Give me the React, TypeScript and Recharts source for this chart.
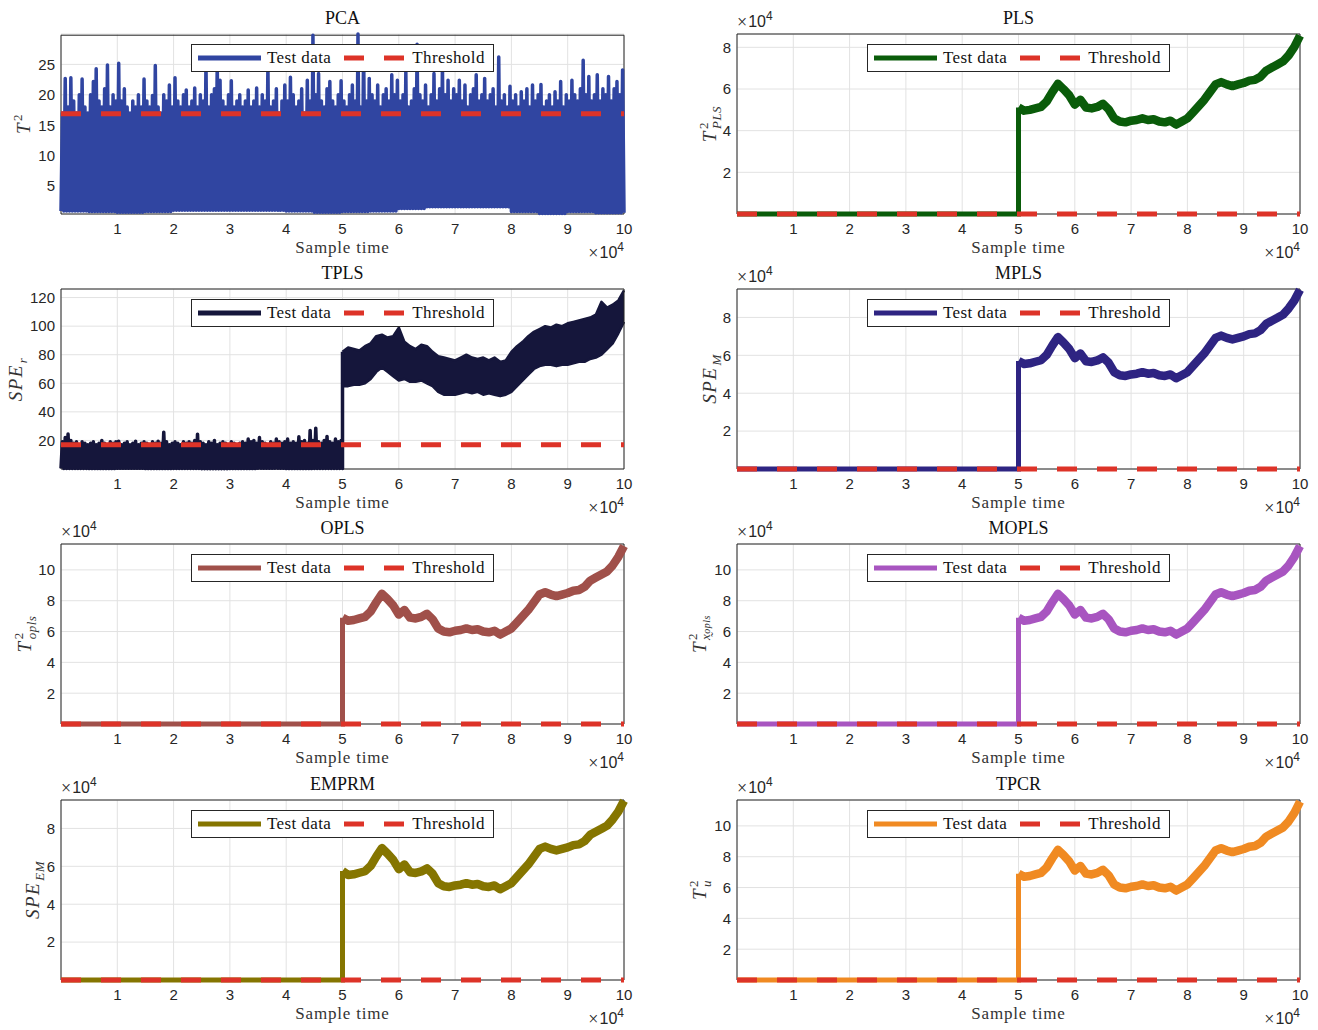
import React from 'react';
import { ComposedChart, Line, Area, XAxis, YAxis, CartesianGrid, ReferenceArea, Legend } from 'recharts';

// ---------------- data ----------------
const sampleTicks = [10000, 20000, 30000, 40000, 50000, 60000, 70000, 80000, 90000, 100000];

// PCA T^2 : peak value of every 500-sample window, and trough level of every 5000-sample block
const pcaPeaks = [
  17, 22.7, 18, 22.8, 19, 17, 20, 22.6, 18, 17,
  20, 22.2, 24.3, 19, 18, 21, 24.9, 18, 20, 19,
  25.2, 19, 21, 18, 17, 19, 18, 20, 18, 22.6,
  19, 18, 19.9, 24.8, 18, 17, 20, 19, 21.6, 18,
  22.8, 19, 18, 20, 20.8, 18, 19, 21.1, 18, 20,
  19, 25.4, 18, 20, 21, 25.2, 22.4, 19, 18, 20,
  22.3, 18, 19, 20, 18, 19, 20.8, 18, 19, 21.1,
  18, 20, 19, 24.9, 18, 19, 21, 17, 19, 21.6,
  19, 22.9, 20, 18, 19, 21, 17, 22.4, 19, 29.8,
  20, 23.5, 19, 18, 21, 22.2, 19, 18, 20, 22.3,
  19, 18, 20, 21.6, 19, 30, 18, 27.9, 19, 22.7,
  20, 19, 21.6, 18, 20, 21, 19, 23.3, 20, 22.4,
  19, 20, 23.8, 18, 19, 21, 28.3, 20, 19, 21.6,
  18, 20, 23.5, 19, 21, 24.9, 20, 22.4, 19, 21,
  20, 22.4, 19, 21.6, 18, 20, 21, 23.3, 19, 20,
  22.7, 19, 20, 21, 18, 26.2, 19, 20, 18, 21.4,
  19, 20, 18, 20.5, 19, 21, 18, 21.6, 19, 20,
  21.7, 18, 19, 20, 18, 20.5, 19, 22.2, 18, 20,
  19, 22.4, 20, 19, 21, 25.7, 20, 23, 19, 20,
  23.3, 19, 21, 20, 23, 19, 21, 22.2, 20, 24.1,
];
const pcaTroughs = [0.9, 0.8, 0.7, 0.8, 1.0, 1.0, 1.0, 1.0, 0.9, 0.7, 0.8, 0.9, 1.3, 1.6, 1.6, 1.6, 0.8, 0.5, 0.8, 0.6];
const pcaThreshold = 16.9;

// TPLS SPE_r
const tplsPrePeaks = [
  19, 22, 24.5, 20, 18, 19, 17, 19, 18, 17,
  18, 19, 17, 18, 20, 18, 17, 19, 18, 19,
  19.5, 17, 18, 19, 17, 18, 19.5, 17, 18, 19,
  18, 17, 19, 18, 19.5, 18, 25.8, 19, 17, 18,
  19, 18, 17, 19, 18, 19, 18, 20, 24.4, 19,
  18, 17, 19, 18, 20, 17, 18, 19, 18, 17,
  19, 18, 17, 18, 19, 18, 21, 19, 20, 18,
  22, 19, 18, 17, 19, 18, 21, 19, 18, 19,
  21, 18, 19, 18, 22.5, 19, 20, 18, 27, 20,
  28.6, 19, 18, 20, 22.8, 19, 18, 21, 19, 20,
];
const tplsPreTroughs = [0.4, 0.3, 0.5, 0.3, 0.4, 0.2, 0.3, 0.5, 0.3, 0.4];
const tplsPostLow = [
  58, 58, 59, 59, 60, 63, 68, 71, 68, 65,
  62, 63, 61, 61, 62, 60, 58, 54, 52, 52,
  52, 53, 54, 53, 54, 52, 53, 52, 51, 52,
  54, 58, 62, 66, 70, 72, 73, 73, 72, 73,
  73, 74, 75, 75, 77, 78, 80, 84, 88, 95, 103,
];
const tplsPostHigh = [
  82, 85, 84, 83, 86, 88, 93, 94, 92, 93,
  99, 89, 86, 84, 87, 86, 82, 79, 78, 77,
  76, 78, 80, 78, 77, 78, 76, 78, 75, 76,
  82, 86, 89, 93, 96, 98, 100, 99, 101, 100,
  102, 103, 104, 105, 106, 108, 117, 113, 115, 118, 125,
];
const tplsThreshold = 17;

// smooth statistics: before the fault (every 10000 samples) and after it (every 1000 samples)
const preFaultTimes = [0, 10000, 20000, 30000, 40000, 50000];
const postFaultTimes = Array.from({ length: 51 }, (_, i) => 50000 + i * 1000);

const plsPre = [14, 12, 15, 13, 16, 14];
const plsPost = [
  51100, 49600, 50000, 50700, 51400, 54000, 58500, 62500, 59900, 57000,
  52500, 54800, 51100, 50700, 51400, 52900, 50300, 45900, 44400, 44000,
  44800, 45100, 45900, 45100, 45500, 44400, 44000, 44800, 42900, 44400,
  45900, 48800, 51800, 54800, 58500, 62200, 63300, 62200, 61400, 62200,
  62900, 64000, 64400, 65900, 68800, 70300, 71800, 73300, 76200, 80200, 85600,
];
const mplsPre = [18, 15, 17, 16, 19, 17];
const mplsPost = [
  57000, 55400, 55800, 56600, 57400, 60200, 65100, 69600, 66700, 63400,
  58500, 61000, 56900, 56500, 57300, 58900, 56100, 51100, 49500, 49100,
  49900, 50300, 51100, 50300, 50700, 49500, 49100, 49900, 47900, 49500,
  51100, 54400, 57700, 61000, 65100, 69200, 70400, 69200, 68400, 69200,
  70000, 71200, 71600, 73300, 76600, 78200, 79800, 81500, 84800, 88900, 94600,
];
const oplsPre = [16, 14, 17, 15, 18, 16];
const oplsPost = [
  69000, 67000, 67500, 68500, 69500, 73000, 79000, 84500, 81000, 77000,
  71000, 74000, 69000, 68500, 69500, 71500, 68000, 62000, 60000, 59500,
  60500, 61000, 62000, 61000, 61500, 60000, 59500, 60500, 58000, 60000,
  62000, 66000, 70000, 74000, 79000, 84000, 85500, 84000, 83000, 84000,
  85000, 86500, 87000, 89000, 93000, 95000, 97000, 99000, 103000, 108500, 115500,
];
const moplsPre = [16, 15, 17, 14, 18, 16];
const moplsPost = [
  69000, 67000, 67500, 68500, 69500, 73000, 79000, 84500, 81000, 77000,
  71000, 74000, 69000, 68500, 69500, 71500, 68000, 62000, 60000, 59500,
  60500, 61000, 62000, 61000, 61500, 60000, 59500, 60500, 58000, 60000,
  62000, 66000, 70000, 74000, 79000, 84000, 85500, 84000, 83000, 84000,
  85000, 86500, 87000, 89000, 93000, 95000, 97000, 99000, 103000, 108500, 115500,
];
const emprmPre = [18, 16, 17, 15, 19, 17];
const emprmPost = [
  57500, 55400, 55800, 56600, 57400, 60200, 65100, 69600, 66700, 63400,
  58500, 61000, 56900, 56500, 57300, 58900, 56100, 51100, 49500, 49100,
  49900, 50300, 51100, 50300, 50700, 49500, 49100, 49900, 47900, 49500,
  51100, 54400, 57700, 61000, 65100, 69200, 70400, 69200, 68400, 69200,
  70000, 71200, 71600, 73300, 76600, 78200, 79800, 81500, 84800, 88900, 94600,
];
const tpcrPre = [16, 14, 16, 15, 17, 15];
const tpcrPost = [
  69000, 67000, 67500, 68500, 69500, 73000, 79000, 84500, 81000, 77000,
  71000, 74000, 69000, 68500, 69500, 71500, 68000, 62000, 60000, 59500,
  60500, 61000, 62000, 61000, 61500, 60000, 59500, 60500, 58000, 60000,
  62000, 66000, 70000, 74000, 79000, 84000, 85500, 84000, 83000, 84000,
  85000, 86500, 87000, 89000, 93000, 95000, 97000, 99000, 103000, 108500, 115800,
];
const smallThreshold = 17;

// ---------------- table builders ----------------
type Row = { x: number; v?: number; band?: [number, number]; pre?: number; post?: number; thr?: number };

function buildPca(): Row[] {
  const rows: Row[] = [];
  pcaPeaks.forEach((p, k) => {
    rows.push({ x: k * 500, v: pcaTroughs[Math.floor(k / 10)] });
    rows.push({ x: k * 500 + 250, v: p });
  });
  rows.push({ x: 100000, v: pcaTroughs[pcaTroughs.length - 1] });
  rows[0].thr = pcaThreshold;
  rows[rows.length - 1].thr = pcaThreshold;
  return rows;
}

function buildTpls(): Row[] {
  const rows: Row[] = [];
  tplsPrePeaks.forEach((p, k) => {
    rows.push({ x: k * 500, v: tplsPreTroughs[Math.floor(k / 10)] });
    rows.push({ x: k * 500 + 250, v: p });
  });
  rows.push({ x: 50000, v: tplsPreTroughs[tplsPreTroughs.length - 1] });
  rows.push({ x: 50000, v: tplsPostHigh[0] });
  postFaultTimes.forEach((x, i) => rows.push({ x, band: [tplsPostLow[i], tplsPostHigh[i]] }));
  rows[0].thr = tplsThreshold;
  rows[rows.length - 1].thr = tplsThreshold;
  return rows;
}

function buildSmooth(pre: number[], post: number[], thr: number): Row[] {
  const rows: Row[] = preFaultTimes.map((x, i) => ({ x, pre: pre[i] }));
  rows.push({ x: 50000, pre: post[0], post: post[0] });
  postFaultTimes.slice(1).forEach((x, i) => rows.push({ x, post: post[i + 1] }));
  rows[0].thr = thr;
  rows[rows.length - 1].thr = thr;
  return rows;
}

// ---------------- styling ----------------
const SERIF = '"Liberation Serif", "Times New Roman", serif';
const SANS = '"Liberation Sans", Arial, sans-serif';
const RED = '#dd3328';
const AXIS = '#262626';
const PW = 563;
const PH = 180;
const ML = 61;
const MT = 34;
const MR = 25;
const MB = 45;
const W = ML + PW + MR;
const H = MT + PH + MB;

const Sci = () => (
  <span style={{ fontFamily: SANS, fontSize: 16, color: AXIS, whiteSpace: 'nowrap', display: 'inline-flex', alignItems: 'flex-start', height: 16 }}>
    <span style={{ fontFamily: SERIF, fontSize: 18, lineHeight: '16px', marginRight: 1 }}>×</span>
    <span style={{ lineHeight: '16px' }}>10</span>
    <span style={{ fontSize: 12, lineHeight: '12px', marginTop: -4 }}>4</span>
  </span>
);

const MathLabel = ({ base, sup, sub }: { base: string; sup?: string; sub?: React.ReactNode }) => (
  <span style={{ display: 'inline-flex', alignItems: 'center', fontFamily: SERIF, fontSize: 19, color: '#333' }}>
    <span style={{ fontStyle: 'italic', letterSpacing: 1.5 }}>{base}</span>
    <span style={{ display: 'inline-flex', flexDirection: 'column', fontSize: 13, lineHeight: '13px', marginLeft: 1 }}>
      <span style={{ visibility: sup ? 'visible' : 'hidden' }}>{sup || '0'}</span>
      <span style={{ fontStyle: 'italic', letterSpacing: 0.5, visibility: sub ? 'visible' : 'hidden' }}>{sub || '0'}</span>
    </span>
  </span>
);

const LegendBox = ({ color }: { color: string }) => (
  <div
    style={{
      width: 303, height: 28, boxSizing: 'border-box', border: `1px solid ${AXIS}`, background: '#fff',
      display: 'flex', alignItems: 'center', fontFamily: SERIF, fontSize: 17, letterSpacing: 0.4, color: '#111', whiteSpace: 'nowrap',
    }}
  >
    <svg width={63} height={8} style={{ marginLeft: 6 }}>
      <line x1={0} y1={4} x2={63} y2={4} stroke={color} strokeWidth={5} />
    </svg>
    <span style={{ marginLeft: 6 }}>Test data</span>
    <svg width={60} height={8} style={{ marginLeft: 13 }}>
      <line x1={0} y1={4} x2={60} y2={4} stroke={RED} strokeWidth={5} strokeDasharray="20 20" />
    </svg>
    <span style={{ marginLeft: 8 }}>Threshold</span>
  </div>
);

type PanelProps = {
  plotLeft: number;
  plotTop: number;
  title: string;
  yLabel: React.ReactNode;
  yLabelDx: number;
  color: string;
  data: Row[];
  yDomain: [number, number];
  yTicks: number[];
  sci: boolean;
  kind: 'zig' | 'tpls' | 'smooth';
};

function Panel({ plotLeft, plotTop, title, yLabel, yLabelDx, color, data, yDomain, yTicks, sci, kind }: PanelProps) {
  const tickStyle = { fontSize: 15, fill: AXIS, fontFamily: SANS };
  const fmtY = (v: number) => (sci ? String(v / 10000) : String(v));
  return (
    <div style={{ position: 'absolute', left: plotLeft - ML, top: plotTop - MT, width: W, height: H }}>
      <ComposedChart width={W} height={H} data={data} margin={{ top: MT, right: MR, bottom: 0, left: 0 }}>
        <CartesianGrid stroke="#e2e2e2" strokeWidth={1} />
        <XAxis
          dataKey="x" type="number" domain={[0, 100000]} ticks={sampleTicks} tickFormatter={(v: number) => String(v / 10000)}
          height={MB} tickLine={false} axisLine={false} tickSize={6} tickMargin={3} tick={tickStyle} interval={0}
        />
        <YAxis
          type="number" domain={yDomain} ticks={yTicks} tickFormatter={fmtY} width={ML}
          tickLine={false} axisLine={false} tickSize={6} tickMargin={0} tick={tickStyle} interval={0}
        />
        <XAxis xAxisId="tb" orientation="bottom" mirror type="number" dataKey="x" domain={[0, 100000]} allowDataOverflow ticks={sampleTicks}
          tick={false} tickSize={5} height={0} axisLine={false} tickLine={{ stroke: AXIS }} />
        <XAxis xAxisId="tt" orientation="top" mirror type="number" dataKey="x" domain={[0, 100000]} allowDataOverflow ticks={sampleTicks}
          tick={false} tickSize={5} height={0} axisLine={false} tickLine={{ stroke: AXIS }} />
        <YAxis yAxisId="tl" orientation="left" mirror type="number" domain={yDomain} allowDataOverflow ticks={yTicks}
          tick={false} tickSize={5} width={0} axisLine={false} tickLine={{ stroke: AXIS }} />
        <YAxis yAxisId="tr" orientation="right" mirror type="number" domain={yDomain} allowDataOverflow ticks={yTicks}
          tick={false} tickSize={5} width={0} axisLine={false} tickLine={{ stroke: AXIS }} />

        {kind !== 'smooth' && (
          <Line dataKey="v" stroke={color} strokeWidth={3.5} strokeLinejoin="round" dot={false} activeDot={false} isAnimationActive={false} />
        )}
        {kind === 'tpls' && (
          <Area dataKey="band" stroke={color} strokeWidth={2.5} strokeLinejoin="round" fill={color} fillOpacity={1} dot={false} activeDot={false} isAnimationActive={false} />
        )}
        {kind === 'smooth' && (
          <Line dataKey="pre" stroke={color} strokeWidth={5} dot={false} activeDot={false} isAnimationActive={false} />
        )}
        {kind === 'smooth' && (
          <Line dataKey="post" stroke={color} strokeWidth={8.5} strokeLinejoin="round" dot={false} activeDot={false} isAnimationActive={false} />
        )}
        <Line dataKey="thr" stroke={RED} strokeWidth={5} strokeDasharray="20 20" connectNulls dot={false} activeDot={false} isAnimationActive={false} />

        <ReferenceArea x1={0} x2={100000} y1={yDomain[0]} y2={yDomain[1]} fill="none" fillOpacity={0} stroke={AXIS} strokeWidth={1} ifOverflow="visible" />
        <Legend
          verticalAlign="middle" align="center" layout="horizontal"
          wrapperStyle={{ left: ML + 130, top: MT + 10, width: 303, height: 28 }}
          content={() => <LegendBox color={color} />}
        />
      </ComposedChart>

      <div style={{ position: 'absolute', left: ML + PW / 2, top: MT - 16, transform: 'translate(-50%, -50%)', fontFamily: SERIF, fontSize: 18, color: '#111', whiteSpace: 'nowrap' }}>
        {title}
      </div>
      <div style={{ position: 'absolute', left: ML + PW / 2, top: MT + PH + 34, transform: 'translate(-50%, -50%)', fontFamily: SERIF, fontSize: 17, letterSpacing: 0.8, color: '#333', whiteSpace: 'nowrap' }}>
        Sample time
      </div>
      <div style={{ position: 'absolute', left: ML + PW, top: MT + PH + 40, transform: 'translate(-100%, -50%)' }}>
        <Sci />
      </div>
      {sci && (
        <div style={{ position: 'absolute', left: ML, top: MT - 11, transform: 'translate(0, -50%)' }}>
          <Sci />
        </div>
      )}
      <div style={{ position: 'absolute', left: ML + yLabelDx, top: MT + PH / 2, transform: 'translate(-50%, -50%) rotate(-90deg)', whiteSpace: 'nowrap' }}>
        {yLabel}
      </div>
    </div>
  );
}

const pcaData = buildPca();
const tplsData = buildTpls();
const plsData = buildSmooth(plsPre, plsPost, smallThreshold);
const mplsData = buildSmooth(mplsPre, mplsPost, smallThreshold);
const oplsData = buildSmooth(oplsPre, oplsPost, smallThreshold);
const moplsData = buildSmooth(moplsPre, moplsPost, smallThreshold);
const emprmData = buildSmooth(emprmPre, emprmPost, smallThreshold);
const tpcrData = buildSmooth(tpcrPre, tpcrPost, smallThreshold);

const LEFT_COL = 61;
const RIGHT_COL = 737;
const ROWS = [34, 289, 544, 800];
const ticks2to8 = [20000, 40000, 60000, 80000];
const ticks2to10 = [20000, 40000, 60000, 80000, 100000];

export default function App() {
  return (
    <div style={{ position: 'absolute', left: 0, top: 0, width: 1318, height: 1030, background: '#fff', overflow: 'hidden' }}>
      <Panel plotLeft={LEFT_COL} plotTop={ROWS[0]} title="PCA" kind="zig" color="#3045a1" data={pcaData}
        yDomain={[0.4, 29.8]} yTicks={[5, 10, 15, 20, 25]} sci={false} yLabelDx={-37}
        yLabel={<MathLabel base="T" sup="2" />} />
      <Panel plotLeft={RIGHT_COL} plotTop={ROWS[0]} title="PLS" kind="smooth" color="#0a5c0a" data={plsData}
        yDomain={[0, 86400]} yTicks={ticks2to8} sci yLabelDx={-27}
        yLabel={<MathLabel base="T" sup="2" sub="PLS" />} />
      <Panel plotLeft={LEFT_COL} plotTop={ROWS[1]} title="TPLS" kind="tpls" color="#15163b" data={tplsData}
        yDomain={[0, 126]} yTicks={[20, 40, 60, 80, 100, 120]} sci={false} yLabelDx={-45}
        yLabel={<MathLabel base="SPE" sub="r" />} />
      <Panel plotLeft={RIGHT_COL} plotTop={ROWS[1]} title="MPLS" kind="smooth" color="#2e2482" data={mplsData}
        yDomain={[0, 95000]} yTicks={ticks2to8} sci yLabelDx={-27}
        yLabel={<MathLabel base="SPE" sub="M" />} />
      <Panel plotLeft={LEFT_COL} plotTop={ROWS[2]} title="OPLS" kind="smooth" color="#a0504a" data={oplsData}
        yDomain={[0, 116800]} yTicks={ticks2to10} sci yLabelDx={-36}
        yLabel={<MathLabel base="T" sup="2" sub="opls" />} />
      <Panel plotLeft={RIGHT_COL} plotTop={ROWS[2]} title="MOPLS" kind="smooth" color="#a855c0" data={moplsData}
        yDomain={[0, 116800]} yTicks={ticks2to10} sci yLabelDx={-38}
        yLabel={<MathLabel base="T" sup="2" sub={<span>x&#816;<span style={{ fontSize: 10 }}>opls</span></span>} />} />
      <Panel plotLeft={LEFT_COL} plotTop={ROWS[3]} title="EMPRM" kind="smooth" color="#857500" data={emprmData}
        yDomain={[0, 95000]} yTicks={ticks2to8} sci yLabelDx={-28}
        yLabel={<MathLabel base="SPE" sub="EM" />} />
      <Panel plotLeft={RIGHT_COL} plotTop={ROWS[3]} title="TPCR" kind="smooth" color="#f08a22" data={tpcrData}
        yDomain={[0, 116800]} yTicks={ticks2to10} sci yLabelDx={-37}
        yLabel={<MathLabel base="T" sup="2" sub="u" />} />
    </div>
  );
}
